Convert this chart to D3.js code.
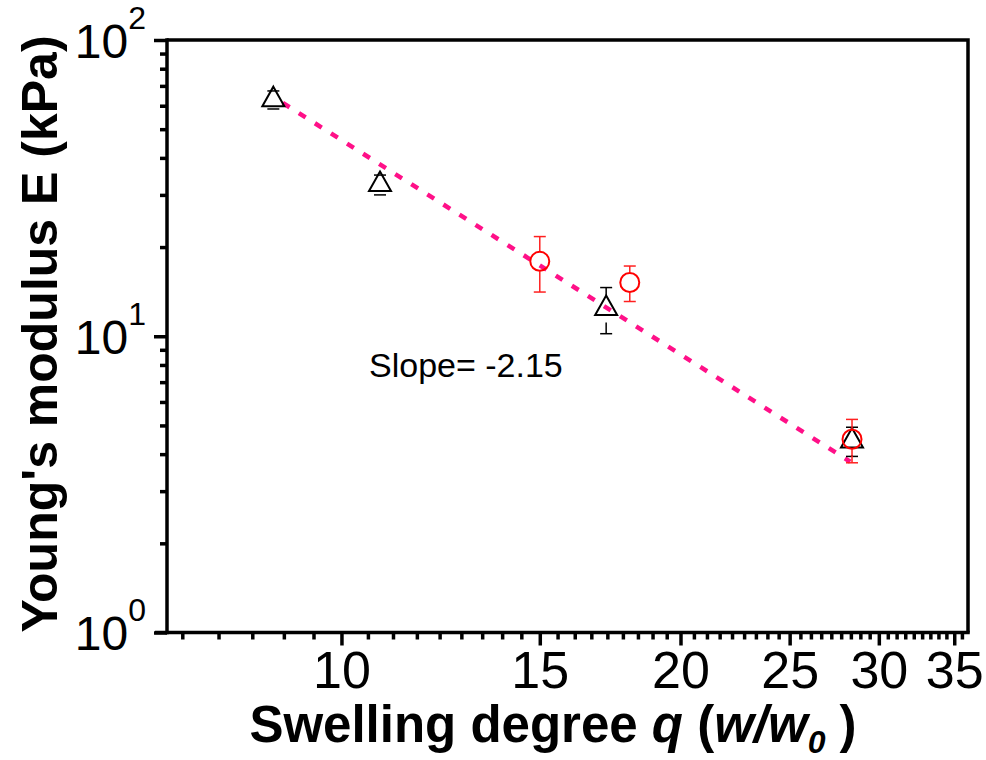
<!DOCTYPE html>
<html>
<head>
<meta charset="utf-8">
<script src="https://cdn.jsdelivr.net/npm/d3@7"></script>
<style>
  body { margin: 0; background: #fff; }
  svg { font-family: "Liberation Sans", Arial, sans-serif; }
</style>
</head>
<body>
<svg width="986" height="760"></svg>
<script>
// triangles (black)
const triQ = [8.7, 10.82, 17.18, 28.4];
const triE = [62.9, 32.5, 12.4, 4.43];
const triErr = [4.4, 2.5, 2.2, 0.5];

// circles (red)
const circQ = [15.0, 18.03, 28.4];
const circE = [17.9, 15.18, 4.49];
const circErr = [3.8, 2.08, 0.75];

// fitted line end points
const fitQ = [8.87, 28.3];
const fitE = [61.3, 3.77];

const xTicks = [10, 15, 20, 25, 30, 35];
const yTicks = [1, 10, 100];
const yExp = ['0', '1', '2'];

const margin = { top: 40, left: 167, bottom: 127.5, right: 18 };
const width = 986;
const height = 760;

const svg = d3.select('svg');

const xScale = d3.scaleLog()
    .domain([7, 36])
    .range([margin.left, width - margin.right]);

const yScale = d3.scaleLog()
    .domain([1, 100])
    .range([height - margin.bottom, margin.top]);

// minor ticks: origin style, 8 minors between majors of 5
const xMinor = [];
for (let m = 5; m < 40; m += 5) {
    for (let k = 1; k <= 8; k++) {
        const v = m + k * 5 / 9;
        if (v > 7 && v < 36) xMinor.push(v);
    }
}
const yMinor = [];
[1, 10].forEach(d => { for (let k = 2; k <= 9; k++) yMinor.push(d * k); });

const x0 = xScale.range()[0], x1 = xScale.range()[1];
const y0 = yScale.range()[0], y1 = yScale.range()[1];

// frame (top + right)
svg.append('path')
    .attr('d', `M${x0},${y1}H${x1}V${y0}`)
    .attr('fill', 'none')
    .attr('stroke', '#000')
    .attr('stroke-width', 3.5);

// x-axis minor
svg.append('g')
    .attr('transform', `translate(0, ${y0})`)
    .call(d3.axisBottom(xScale).tickValues(xMinor).tickSize(7).tickFormat(''))
    .call(g => g.select('.domain').remove())
    .call(g => g.selectAll('.tick line').attr('stroke-width', 3.5));

// x-axis major
svg.append('g')
    .attr('transform', `translate(0, ${y0})`)
    .call(d3.axisBottom(xScale).tickValues(xTicks).tickSize(13).tickSizeOuter(0).tickPadding(6).tickFormat(d => d))
    .call(g => g.select('.domain').attr('stroke-width', 3.5).attr('d', `M${x0 - 12},0H${x1 + 1.75}`))
    .call(g => g.selectAll('.tick line').attr('stroke-width', 3.5))
    .call(g => g.selectAll('.tick text')
        .attr('fill', '#000')
        .attr('font-family', '"Liberation Sans Narrow", "Arial Narrow", sans-serif')
        .attr('font-size', 52));

// y-axis minor
svg.append('g')
    .attr('transform', `translate(${x0}, 0)`)
    .call(d3.axisLeft(yScale).tickValues(yMinor).tickSize(7).tickFormat(''))
    .call(g => g.select('.domain').remove())
    .call(g => g.selectAll('.tick line').attr('stroke-width', 3.5));

// y-axis major
svg.append('g')
    .attr('transform', `translate(${x0}, 0)`)
    .call(d3.axisLeft(yScale).tickValues(yTicks).tickSize(13).tickSizeOuter(0).tickPadding(8).tickFormat(''))
    .call(g => g.select('.domain').attr('stroke-width', 3.5).attr('d', `M0,${y0 + 1.75}V${y1 - 1.75}`))
    .call(g => g.selectAll('.tick line').attr('stroke-width', 3.5))
    .call(g => g.selectAll('.tick text').each(function (d, i) {
        const t = d3.select(this)
            .attr('fill', '#000')
            .attr('font-size', 48)
            .attr('dy', '0.36em');
        t.append('tspan').text('10');
        t.append('tspan').attr('font-size', 32).attr('dy', '-0.9em').text(yExp[i]);
    }));

// fitted dashed line
const line = d3.line()
    .x(d => xScale(d[0]))
    .y(d => yScale(d[1]));

svg.append('path')
    .datum(fitQ.map((q, i) => [q, fitE[i]]))
    .attr('fill', 'none')
    .attr('stroke', '#ff1088')
    .attr('stroke-width', 4.5)
    .attr('stroke-dasharray', '8,11')
    .attr('d', line);

// error bars helper, drawn from marker edge outward
function errBars(q, E, err, color, gapUp, gapDown) {
    const g = svg.append('g').attr('stroke', color).attr('stroke-width', 1.5).attr('fill', 'none');
    q.forEach((v, i) => {
        const cx = xScale(v);
        const cy = yScale(E[i]);
        const yt = yScale(E[i] + err[i]);
        const yb = yScale(E[i] - err[i]);
        if (cy - gapUp > yt) g.append('line').attr('x1', cx).attr('x2', cx).attr('y1', cy - gapUp).attr('y2', yt);
        if (cy + gapDown < yb) g.append('line').attr('x1', cx).attr('x2', cx).attr('y1', cy + gapDown).attr('y2', yb);
        g.append('line').attr('x1', cx - 6).attr('x2', cx + 6).attr('y1', yt).attr('y2', yt);
        g.append('line').attr('x1', cx - 6).attr('x2', cx + 6).attr('y1', yb).attr('y2', yb);
    });
}

// triangles
errBars(triQ, triE, triErr, '#000', 13, 14);
svg.append('g')
    .selectAll('path')
    .data(triQ)
    .join('path')
    .attr('transform', (d, i) => `translate(${xScale(d)}, ${yScale(triE[i])})`)
    .attr('d', 'M0,-13L11,6.5L-11,6.5Z')
    .attr('fill', 'none')
    .attr('stroke', '#000')
    .attr('stroke-width', 2);

// circles
errBars(circQ, circE, circErr, '#ff2020', 10, 10);
svg.append('g')
    .selectAll('circle')
    .data(circQ)
    .join('circle')
    .attr('cx', d => xScale(d))
    .attr('cy', (d, i) => yScale(circE[i]))
    .attr('r', 9.5)
    .attr('fill', 'none')
    .attr('stroke', '#ff0000')
    .attr('stroke-width', 2);

// annotation
svg.append('text')
    .attr('x', 369)
    .attr('y', 377)
    .attr('font-size', 34)
    .attr('fill', '#000')
    .text('Slope= -2.15');

// axis titles
const xt = svg.append('text')
    .attr('x', 553)
    .attr('y', 742)
    .attr('text-anchor', 'middle')
    .attr('font-size', 51)
    .attr('font-weight', 'bold')
    .attr('fill', '#000');
xt.append('tspan').text('Swelling degree ');
xt.append('tspan').attr('font-style', 'italic').text('q');
xt.append('tspan').text(' (');
xt.append('tspan').attr('font-style', 'italic').text('w/w');
xt.append('tspan').attr('font-style', 'italic').attr('font-size', 32).attr('dy', 11).text('0');
xt.append('tspan').attr('dy', -11).text(' )');

svg.append('text')
    .attr('transform', `translate(57, 334) rotate(-90)`)
    .attr('text-anchor', 'middle')
    .attr('font-size', 50)
    .attr('font-weight', 'bold')
    .attr('fill', '#000')
    .text("Young's modulus E (kPa)");
</script>
</body>
</html>
